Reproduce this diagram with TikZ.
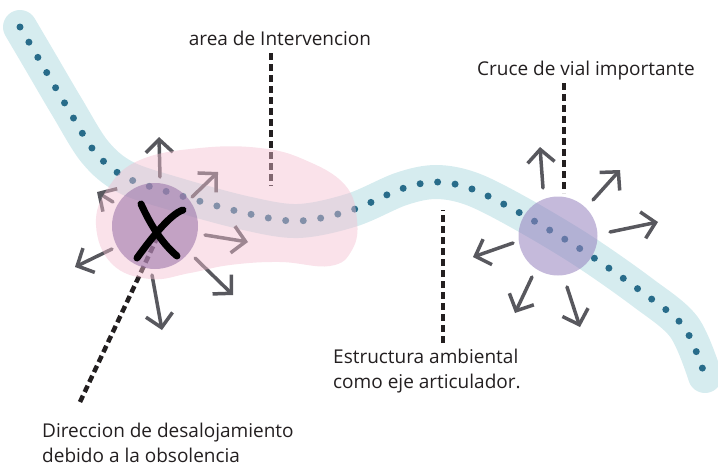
\documentclass[tikz,border=0pt]{standalone}
\usepackage{fontspec}
\setmainfont{Open Sans}
\usetikzlibrary{arrows.meta}

\definecolor{eje}{RGB}{214,236,239}
\definecolor{punto}{RGB}{40,108,138}
\definecolor{zona}{RGB}{243,190,208}
\definecolor{nodoA}{RGB}{150,110,165}
\definecolor{nodoB}{RGB}{150,130,190}
\definecolor{gris}{RGB}{88,88,94}
\definecolor{texto}{RGB}{35,31,32}

\newcommand{\ejeruta}{plot[smooth, tension=0.55] coordinates {(20,27) (40,61) (67,107) (95,152) (125,177) (175,194) (245,213) (298,221) (352,210) (401,189) (436,182) (472,189) (520,213) (582,250) (642,292) (684,327) (705,376)}}

\begin{document}
\begin{tikzpicture}[x=1pt, y=-1pt,
    etiqueta/.style={font=\fontsize{19}{25}\selectfont, text=texto, inner sep=0pt, align=left},
    guia/.style={draw=texto, line width=4.5pt, dash pattern=on 7pt off 4pt},
    flecha/.style={draw=gris, line width=3.5pt, line cap=round, line join=round,
                   -{Straight Barb[length=13pt, width=27pt]}},
    nodo/.style={circle, inner sep=0pt, fill opacity=0.55}
]
\useasboundingbox (0,0) rectangle (718,466);

% eje ambiental
\draw[eje, line width=34pt, line cap=round] \ejeruta;
\draw[punto, line width=7pt, line cap=round, dash pattern=on 0pt off 17.6pt] \ejeruta;

% guias bajo la zona
\node[etiqueta, anchor=base] (area) at (280,45) {area de Intervencion};
\coordinate (parea1) at (271,53);
\coordinate (parea2) at (271,186);
\draw[guia] (parea1) -- (parea2);

\node[etiqueta, anchor=base west] (direccion) at (42,462) {Direccion de desalojamiento\\debido a la obsolencia};
\coordinate (pdir) at (80,402);
\coordinate (pnodo1) at (157,238);
\draw[guia] (pdir) -- (pnodo1);

% flechas del nodo 1
\draw[flecha] (160,177) -- (159,137);
\draw[flecha] (192,197) -- (218,172);
\draw[flecha] (113,202) -- (97,192);
\draw[flecha] (205,235) -- (248,242);
\draw[flecha] (112,249) -- (75,267);
\draw[flecha] (195,258) -- (233,295);
\draw[flecha] (152,275) -- (162,330);

% area de intervencion
\fill[zona, opacity=0.45] plot[smooth cycle, tension=0.7] coordinates {(96,225) (108,188) (140,160) (200,148) (260,148) (305,160) (345,185) (357,220) (352,250) (330,266) (280,262) (230,265) (190,273) (150,279) (112,264)};

% nodos
\node[nodo, fill=nodoA, minimum size=86pt] (nodo1) at (155,226) {};
\node[nodo, fill=nodoB, minimum size=79pt] (nodo2) at (558,236) {};

% la X
\draw[black, line width=7pt, line cap=round] (141,204) .. controls (152,228) and (163,244) .. (177,256);
\draw[black, line width=7pt, line cap=round] (183,210) .. controls (170,214) and (150,240) .. (137,258);

% flechas del nodo 2
\draw[flecha] (543,188) -- (540,147);
\draw[flecha] (593,200) -- (620,170);
\draw[flecha] (610,232) -- (658,222);
\draw[flecha] (513,243) -- (473,257);
\draw[flecha] (532,277) -- (515,313);
\draw[flecha] (567,287) -- (580,327);

% etiquetas
\node[etiqueta, anchor=base west] (cruce) at (477,75) {Cruce de vial importante};
\coordinate (pcruce1) at (564,83);
\coordinate (pcruce2) at (564,193);
\draw[guia] (pcruce1) -- (pcruce2);

\node[etiqueta, anchor=base west] (estructura) at (333,388) {Estructura ambiental\\como eje articulador.};
\coordinate (peje1) at (443,343);
\coordinate (peje2) at (443,210);
\draw[guia] (peje1) -- (peje2);

\end{tikzpicture}
\end{document}
